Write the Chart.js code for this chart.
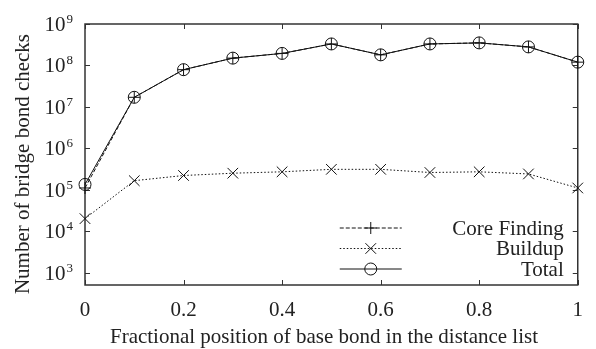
<!DOCTYPE html>
<html>
<head>
    <meta charset="UTF-8">
    <style>
        body { margin: 0; background: #fff; }
        #chart { display: block; }
    </style>
</head>
<body>
    <canvas id="chart" width="596" height="349"></canvas>

    <script src="https://cdn.jsdelivr.net/npm/chart.js"></script>
    <script>
        // data
        const positions = [0, 0.1, 0.2, 0.3, 0.4, 0.5, 0.6, 0.7, 0.8, 0.9, 1];
        const coreFinding = [1.1e5, 1.7e7, 7.9e7, 1.5e8, 1.95e8, 3.3e8, 1.8e8, 3.3e8, 3.5e8, 2.8e8, 1.2e8];
        const buildup = [2.0e4, 1.65e5, 2.2e5, 2.5e5, 2.7e5, 3.1e5, 3.1e5, 2.6e5, 2.7e5, 2.4e5, 1.1e5];
        const total = [1.34e5, 1.7e7, 7.9e7, 1.5e8, 1.95e8, 3.3e8, 1.8e8, 3.3e8, 3.5e8, 2.8e8, 1.2e8];
        const xTicks = [0, 0.2, 0.4, 0.6, 0.8, 1];
        const yExponents = [3, 4, 5, 6, 7, 8, 9];

        const FONT = '"Liberation Serif", serif';
        const INK = '#222';
        Chart.defaults.font.family = FONT;

        const toPoints = vals => vals.map((v, i) => ({ x: positions[i], y: v }));

        // frame, inward ticks, y labels with superscripts, axis titles, legend
        const gnuplotLook = {
            id: 'gnuplotLook',
            beforeDatasetsDraw(chart) {
                const { ctx, chartArea: a, scales } = chart;
                ctx.save();
                ctx.strokeStyle = '#333';
                ctx.lineWidth = 1;
                xTicks.forEach(t => {
                    const px = Math.round(scales.x.getPixelForValue(t)) + 0.5;
                    ctx.beginPath();
                    ctx.moveTo(px, a.bottom); ctx.lineTo(px, a.bottom - 5);
                    ctx.moveTo(px, a.top); ctx.lineTo(px, a.top + 5);
                    ctx.stroke();
                });
                yExponents.forEach(e => {
                    const py = Math.round(scales.y.getPixelForValue(Math.pow(10, e))) + 0.5;
                    ctx.beginPath();
                    ctx.moveTo(a.left, py); ctx.lineTo(a.left + 5, py);
                    ctx.moveTo(a.right, py); ctx.lineTo(a.right - 5, py);
                    ctx.stroke();
                });
                ctx.lineWidth = 1.5;
                ctx.strokeRect(a.left, a.top, a.right - a.left, a.bottom - a.top);
                ctx.restore();
            },
            afterDraw(chart) {
                const { ctx, chartArea: a, scales } = chart;
                ctx.save();
                ctx.fillStyle = INK;

                // y tick labels: 10 with superscript exponent
                yExponents.forEach(e => {
                    const py = scales.y.getPixelForValue(Math.pow(10, e));
                    ctx.font = '13px ' + FONT;
                    ctx.textAlign = 'right';
                    ctx.textBaseline = 'alphabetic';
                    const ew = ctx.measureText(String(e)).width;
                    ctx.fillText(String(e), a.left - 12, py - 1);
                    ctx.font = '21px ' + FONT;
                    ctx.fillText('10', a.left - 13 - ew, py + 7);
                });

                // axis titles
                ctx.font = '21px ' + FONT;
                ctx.textAlign = 'center';
                ctx.textBaseline = 'alphabetic';
                ctx.fillText('Fractional position of base bond in the distance list', 324, 343);

                ctx.save();
                ctx.translate(23, 164);
                ctx.rotate(-Math.PI / 2);
                ctx.textBaseline = 'middle';
                ctx.fillText('Number of bridge bond checks', 0, 0);
                ctx.restore();

                // legend, gnuplot style
                chart.data.datasets.forEach((ds, i) => {
                    const y = a.bottom - 57 + i * 20.5;
                    ctx.font = '21px ' + FONT;
                    ctx.textAlign = 'right';
                    ctx.textBaseline = 'middle';
                    ctx.fillStyle = INK;
                    ctx.fillText(ds.label, a.right - 14, y + 1);

                    ctx.strokeStyle = ds.borderColor;
                    ctx.lineWidth = ds.borderWidth;
                    ctx.setLineDash(ds.borderDash || []);
                    ctx.beginPath();
                    ctx.moveTo(a.right - 238, y);
                    ctx.lineTo(a.right - 176, y);
                    ctx.stroke();
                    ctx.setLineDash([]);
                    ctx.fillStyle = 'rgba(0,0,0,0)';
                    Chart.helpers.drawPoint(ctx, {
                        pointStyle: ds.pointStyle,
                        radius: ds.pointRadius,
                        borderWidth: 1,
                        rotation: 0
                    }, a.right - 207, y);
                });
                ctx.restore();
            }
        };

        const makeChart = () => new Chart(document.getElementById('chart'), {
            type: 'line',
            data: {
                datasets: [
                    {
                        label: 'Core Finding',
                        data: toPoints(coreFinding),
                        borderColor: '#111',
                        backgroundColor: 'transparent',
                        borderWidth: 1,
                        borderDash: [4, 2],
                        pointStyle: 'cross',
                        pointRadius: 6,
                        pointBorderWidth: 1
                    },
                    {
                        label: 'Buildup',
                        data: toPoints(buildup),
                        borderColor: '#111',
                        backgroundColor: 'transparent',
                        borderWidth: 1,
                        borderDash: [1.5, 2],
                        pointStyle: 'crossRot',
                        pointRadius: 7.5,
                        pointBorderWidth: 1
                    },
                    {
                        label: 'Total',
                        data: toPoints(total),
                        borderColor: '#111',
                        backgroundColor: 'transparent',
                        borderWidth: 1,
                        pointStyle: 'circle',
                        pointRadius: 6,
                        pointBorderWidth: 1
                    }
                ]
            },
            options: {
                responsive: false,
                animation: false,
                clip: false,
                layout: { padding: { top: 24, right: 15, left: 0, bottom: 0 } },
                plugins: {
                    legend: { display: false },
                    tooltip: { enabled: false }
                },
                scales: {
                    x: {
                        type: 'linear',
                        min: 0,
                        max: 1,
                        grid: { display: false, drawTicks: false },
                        border: { display: false },
                        afterBuildTicks: axis => { axis.ticks = xTicks.map(v => ({ value: v })); },
                        afterFit: axis => { axis.height = 64; },
                        ticks: {
                            padding: 13,
                            color: INK,
                            font: { family: FONT, size: 21 },
                            callback: v => (v === 0 || v === 1) ? String(v) : v.toFixed(1)
                        }
                    },
                    y: {
                        type: 'logarithmic',
                        min: 500,
                        max: 1e9,
                        grid: { display: false, drawTicks: false },
                        border: { display: false },
                        afterBuildTicks: axis => { axis.ticks = yExponents.map(e => ({ value: Math.pow(10, e) })); },
                        afterFit: axis => { axis.width = 85; },
                        ticks: { display: false }
                    }
                }
            },
            plugins: [gnuplotLook]
        });

        // make sure the serif face is ready before drawing
        document.fonts.load('21px "Liberation Serif"').then(makeChart, makeChart);
    </script>
</body>
</html>
